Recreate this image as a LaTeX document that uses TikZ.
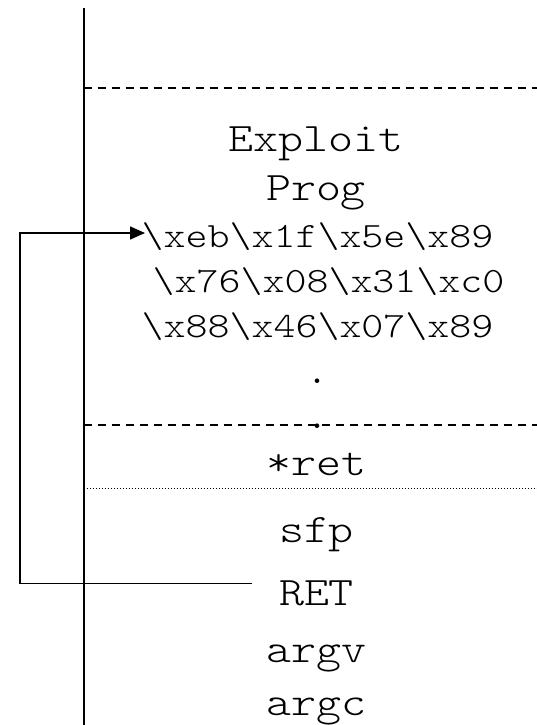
\documentclass[tikz,border=0pt]{standalone}
\usepackage{fontspec}
\newfontfamily\courfont{lmmonolt10-regular.otf}
\usetikzlibrary{arrows.meta}
\newcommand{\bs}{\textbackslash}
\newcommand{\sqz}[1]{\scalebox{1}[0.85]{#1}}
\begin{document}
\begin{tikzpicture}[x=1pt,y=-1pt,
  lbl/.style={anchor=base,inner sep=0pt,font=\courfont\fontsize{47.6}{47.6}\selectfont},
  hexline/.style={anchor=base,inner sep=0pt,font=\courfont\fontsize{41.9}{41.9}\selectfont},
  axisline/.style={line width=2pt},
  sepline/.style={line width=1.5pt,dash pattern=on 8pt off 6pt},
  dotline/.style={line width=1pt,dash pattern=on 1pt off 2pt},
  link/.style={line width=1.6pt},
  tip/.style={-{Triangle[length=15pt,width=13pt]}}
  ]
\useasboundingbox (0,0) rectangle (537,725);
% stack axis
\coordinate (axtop) at (83.5,8);
\coordinate (axbot) at (83.5,725);
\draw[axisline] (axtop) -- (axbot);
% separators
\coordinate (s1a) at (83.5,88);   \coordinate (s1b) at (537,88);
\coordinate (s2a) at (83.5,425);  \coordinate (s2b) at (537,425);
\coordinate (s3a) at (83.5,488);  \coordinate (s3b) at (537,488);
\draw[sepline] (s1a) -- (s1b);
\draw[sepline] (s2a) -- (s2b);
\draw[dotline] (s3a) -- (s3b);
% texts
\node[lbl] (exploit) at (316,151) {\sqz{Exploit}};
\node[lbl] (prog) at (316,200) {\sqz{Prog}};
\node[hexline] (hex1) at (317.5,247) {\sqz{\bs xeb\bs x1f\bs x5e\bs x89}};
\node[hexline] (hex2) at (328.5,292) {\sqz{\bs x76\bs x08\bs x31\bs xc0}};
\node[hexline] (hex3) at (317.5,337) {\sqz{\bs x88\bs x46\bs x07\bs x89}};
\node[hexline] (dot1) at (317.5,383) {.};
\node[hexline] (dot2) at (317.5,428) {.};
\node[lbl] (ret) at (316.5,475) {\sqz{*ret}};
\node[lbl] (sfp) at (316.5,542) {\sqz{sfp}};
\node[lbl] (RET) at (316.5,605) {\sqz{RET}};
\node[lbl] (argv) at (316.5,662) {\sqz{argv}};
\node[lbl] (argc) at (316.5,715) {\sqz{argc}};
% return arrow
\coordinate (retend) at (252,583.5);
\coordinate (loopbot) at (20,583.5);
\coordinate (looptop) at (20,233);
\coordinate (target) at (145,233);
\draw[link,tip] (retend) -- (loopbot) -- (looptop) -- (target);
\end{tikzpicture}
\end{document}
